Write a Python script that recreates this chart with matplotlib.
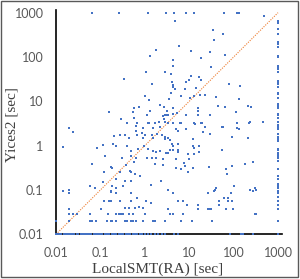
import matplotlib
matplotlib.use("Agg")
import matplotlib.pyplot as plt
from matplotlib.patches import Rectangle

# Solve times (seconds)
x_main = [
    # top row (timeouts of Yices2)
    0.065, 0.26, 1.18, 3.0, 4.5, 8.5, 12.8, 60, 119, 130, 484,
    # upper middle
    0.16, 1.82, 1.29, 1.08, 2.8, 0.34, 1.45, 1.0, 1.27, 2.17, 2.7, 0.75, 0.58,
    1.29, 3.1, 0.53, 1.1, 2.6, 0.56, 0.29, 2.7, 2.8, 2.1, 0.68, 1.2, 1.7,
    4.9, 35, 37, 5.8, 11.2, 29, 18.2, 4.25, 4.3, 31, 3.8, 11, 16.5, 4.0, 8.5,
    10, 18, 4.4, 4.25, 4.9, 8.0, 14, 3.9, 6.6, 10.2, 12.8, 17.6, 23, 40, 3.5,
    45, 3.2, 4.25, 5.3, 16, 16, 2.9, 3.3, 4.3, 8.5, 15.6, 29, 6.3, 12.8, 18.2,
    58, 64, 80, 142, 130, 64, 210, 250, 115, 119, 230, 470,
    # lower left
    0.0196, 0.024, 0.0146, 0.083, 0.114, 0.127, 0.066, 0.12, 0.17, 0.116,
    0.057, 0.076, 0.0146, 0.02, 0.02, 0.17, 0.12, 0.17, 0.103, 0.02, 0.0196,
    0.024, 0.029, 0.057, 0.15, 0.01, 0.0196, 0.057, 0.066, 0.078, 0.14, 0.17,
    # centre cloud
    0.40, 0.63, 0.93, 1.26, 1.55, 2.2, 1.7, 0.2, 0.27, 0.36, 0.45, 0.63, 0.66,
    0.85, 0.9, 1.0, 1.43, 1.55, 1.9, 2.4, 2.8, 0.19, 0.23, 0.39, 0.49, 0.71,
    0.96, 1.2, 1.5, 1.8, 2.2, 3.0, 0.31, 0.48, 0.63, 1.1, 1.43, 1.8, 2.6, 0.38,
    0.56, 1.7, 2.6, 0.18, 0.27, 0.47, 0.48, 0.60, 0.78, 0.23, 0.36, 0.18, 0.22,
    0.33, 0.49, 1.4, 2.3, 0.17, 0.23, 0.48, 0.16, 0.27, 0.49, 0.68, 1.06, 1.35,
    0.75, 0.36, 0.43, 0.60, 0.93, 0.23, 0.26, 0.29, 0.33, 0.43, 0.55, 1.0,
    0.18, 0.23, 0.36, 0.39, 0.48, 0.55, 0.63, 0.9, 1.55, 1.7,
    # lower right
    3.3, 4.25, 6.6, 13.6, 19, 5.0, 5.5, 8.5, 23, 20, 29, 57, 2.9, 3.3, 3.6, 12,
    4.0, 4.25, 5.5, 12.4, 16.8, 13, 3.6, 4.4, 5.5, 5.5, 55, 3.4, 9.4, 13, 16.5,
    10, 5.0, 7.7, 8.1, 5.0, 6.6, 12, 28, 9.4, 3.4, 4.4, 26, 37, 39, 40, 5.5,
    7.1, 15.6, 8.7, 46, 48, 3.3, 15.6, 26, 28, 31, 3.6, 4.25, 7.3, 2.9, 6.6,
    11.5, 33,
    55, 119, 119, 130, 220, 90, 215, 55, 180, 280, 90, 68, 70, 102, 240, 280,
    300, 320, 86, 62, 75, 75, 90, 68, 95, 300, 320,
]
y_main = [
    1000, 1000, 1000, 1000, 1000, 1000, 1000, 1000, 1000, 1000, 850,
    5.6, 144, 107, 47, 45, 31.6, 24, 13.3, 10.8, 8.3, 7.4, 7.5, 6.9,
    6.0, 5.0, 5.6, 4.9, 4.6, 4.3, 3.9, 4.0, 3.5, 3.5, 3.3, 3.3, 3.3,
    650, 400, 238, 178, 134, 130, 93, 86, 63, 60, 41, 37, 35, 28, 28,
    30, 30, 23.5, 21.5, 19, 19, 19.6, 15.8, 13.3, 12, 13.3, 13.8, 14, 12.5, 11.5,
    7.9, 6.1, 6.9, 5.5, 7.1, 6.2, 5.0, 5.0, 5.2, 5.0, 4.9, 5.0, 3.3, 3.3, 3.3,
    330, 113, 25, 22, 11.1, 7.3, 8.0, 7.6, 5.6, 3.3, 3.5, 3.5,
    2.5, 2.06, 0.94, 0.9, 1.05, 0.59, 0.38, 0.26, 0.33, 0.154,
    0.12, 0.11, 0.093, 0.1, 0.084, 0.093, 0.055, 0.055, 0.038, 0.037, 0.028,
    0.028, 0.028, 0.028, 0.028, 0.02, 0.02, 0.02, 0.02, 0.02, 0.02, 0.02,
    3.2, 2.75, 2.5, 3.2, 2.5, 2.7, 3.2, 1.67, 1.76, 1.7, 1.47, 2.1, 1.7,
    1.9, 1.47, 1.76, 1.76, 1.47, 1.85, 1.7, 1.43, 1.08, 1.0, 0.96, 0.77, 0.85,
    0.96, 0.85, 0.77, 0.71, 0.77, 0.68, 0.54, 0.57, 0.54, 0.52, 0.54, 0.52, 0.51, 0.37,
    0.43, 0.38, 0.37, 0.32, 0.26, 0.27, 0.25, 0.23, 0.21, 0.18, 0.156, 0.12, 0.11,
    0.12, 0.156, 0.13, 0.156, 0.09, 0.085, 0.085, 0.057, 0.055, 0.055, 0.066, 0.057, 0.05,
    0.042, 0.04, 0.04, 0.04, 0.04, 0.028, 0.028, 0.028, 0.028, 0.028, 0.028, 0.028,
    0.02, 0.02, 0.02, 0.02, 0.02, 0.02, 0.02, 0.02, 0.02, 0.02,
    3.2, 3.2, 3.3, 3.1, 3.2, 2.4, 2.1, 2.4, 2.6, 2.0, 1.85, 2.6, 1.6, 1.47, 1.36, 1.43,
    1.08, 1.0, 1.1, 1.0, 1.0, 0.88, 0.81, 0.81, 0.81, 0.71, 0.81, 0.68, 0.66, 0.66, 0.71,
    0.51, 0.5, 0.4, 0.35, 0.32, 0.29, 0.32, 0.33, 0.25, 0.1, 0.085, 0.085, 0.093, 0.1, 0.11, 0.055,
    0.055, 0.047, 0.047, 0.055, 0.047, 0.038, 0.038, 0.038, 0.038, 0.038, 0.028, 0.028, 0.028, 0.02, 0.02,
    0.02, 0.02,
    2.7, 3.3, 2.5, 2.4, 3.3, 1.6, 1.47, 0.81, 0.39, 0.43, 0.34, 0.29, 0.23, 0.12, 0.1, 0.093,
    0.11, 0.1, 0.085, 0.066, 0.066, 0.055, 0.055, 0.037, 0.037, 0.028, 0.028,
]

# LocalSMT(RA) timed out (1000 s)
y_at_timeout = [
    660, 600, 436, 336, 222, 200, 171, 107, 102, 64, 58, 55, 47, 29.5, 26.5,
    24, 21.5, 15.8, 14.3, 11.6, 8.9, 8.0, 7.2, 6.9, 5.3, 4.8, 4.3, 4.1, 3.5,
    3.0, 2.7, 2.4, 1.8, 1.6, 1.45, 1.25, 0.86, 0.78, 0.70, 0.64, 0.58, 0.52,
    0.45, 0.30, 0.21, 0.18, 0.14, 0.125, 0.113, 0.093, 0.084, 0.071, 0.056,
    0.047, 0.037, 0.02, 0.01,
]

# Yices2 at the 0.01 s floor
x_at_floor = [
    0.01, 0.011, 0.012, 0.013, 0.015, 0.017, 0.019, 0.021, 0.023, 0.026, 0.029,
    0.032, 0.036, 0.04, 0.045, 0.05, 0.056, 0.063, 0.07, 0.08, 0.09, 0.1, 0.11,
    0.125, 0.14, 0.16, 0.18, 0.2, 0.23, 0.26, 0.29, 0.33, 0.37, 0.42, 0.47,
    0.53, 0.6, 0.68, 0.77, 0.87, 1.0, 1.2, 1.4, 1.7, 2.0, 2.4, 2.8, 4.6, 5.5,
    85, 150, 160, 280,
]

diag = [0.01, 1000]
ticks = [0.01, 0.1, 1, 10, 100, 1000]
tick_labels = ["0.01", "0.1", "1", "10", "100", "1000"]

blue = "#4472C4"
orange = "#ED7D31"

fig = plt.figure(figsize=(3.0, 2.79), dpi=100)
ax = fig.add_axes([56 / 300, 1 - 234.3 / 279, 226 / 300, 224.3 / 279])

ax.set_xscale("log")
ax.set_yscale("log")
ax.set_xlim(0.01, 1230)
ax.set_ylim(0.01, 1150)

ax.plot(diag, diag, color=orange, lw=0.8, ls=(0, (1, 1.2)), zorder=2)

mk = dict(marker="s", s=4, color=blue, linewidths=0, clip_on=False, zorder=4)
ax.scatter(x_main, y_main, **mk)
ax.scatter([1000] * len(y_at_timeout), y_at_timeout, **mk)
ax.scatter(x_at_floor, [0.01] * len(x_at_floor), **mk)

for s in ["top", "right"]:
    ax.spines[s].set_visible(False)
for s in ["left", "bottom"]:
    ax.spines[s].set_color("black")
    ax.spines[s].set_linewidth(1.2)
    ax.spines[s].set_zorder(3)

ax.xaxis.set_major_locator(plt.FixedLocator(ticks))
ax.yaxis.set_major_locator(plt.FixedLocator(ticks))
ax.xaxis.set_minor_locator(plt.NullLocator())
ax.yaxis.set_minor_locator(plt.NullLocator())
ax.set_xticklabels(tick_labels)
ax.set_yticklabels(tick_labels)
ax.tick_params(length=0, labelsize=9, labelcolor="#595959")
ax.tick_params(axis="x", pad=9.5)
ax.tick_params(axis="y", pad=9)
for lab in ax.get_xticklabels() + ax.get_yticklabels():
    lab.set_family("Lato")

ax.set_xlabel("LocalSMT(RA) [sec]", family="Liberation Serif", fontsize=11,
              color="#404040")
ax.set_ylabel("Yices2 [sec]", family="Liberation Serif", fontsize=11,
              color="#404040")
ax.xaxis.set_label_coords(0.451, -0.126)
ax.yaxis.set_label_coords(-0.168, 0.49)

fig.patches.append(Rectangle((1 / 300, 2 / 279), 297 / 300, 276 / 279,
                             transform=fig.transFigure, fill=False,
                             edgecolor="#595959", lw=1))

fig.savefig("out.png", dpi=100)
